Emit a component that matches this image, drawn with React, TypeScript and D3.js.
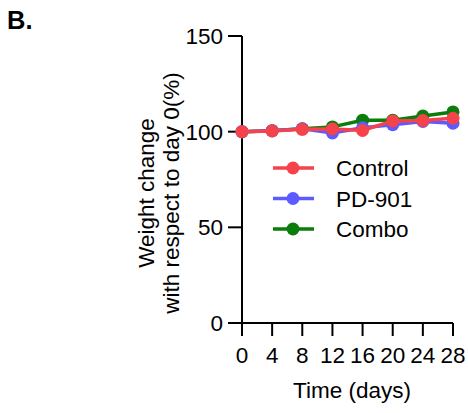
import React from 'react';
import {scaleLinear, line} from 'd3';

// days on the x axis
const days = [0, 4, 8, 12, 16, 20, 24, 28];
const yTicks = [0, 50, 100, 150];

// weight change (%)
const control = [100, 100.4, 101.2, 101.4, 100.6, 105.6, 105.8, 107];
const pd901 = [100, 100.5, 101.5, 99.3, 102, 103.6, 105.3, 104.4];
const combo = [100, 100.5, 101.5, 102.5, 106, 106, 108.2, 110.3];

const seriesNames = ['Control', 'PD-901', 'Combo'];
const seriesColors = ['#f5424b', '#5b5bff', '#0a7d0a'];
const seriesValues = [control, pd901, combo];

const font = 'Arial, "Liberation Sans", sans-serif';
const fs = 22.5;

const App = () => {
    const width = 468;
    const height = 413;

    const x = scaleLinear().domain([0, 28]).range([242, 453]);
    const y = scaleLinear().domain([0, 150]).range([323, 36]);

    const path = line<number>()
        .x((d, i) => x(days[i]))
        .y(d => y(d));

    // draw combo first, then pd-901, control on top
    const order = [2, 1, 0];

    return (
        <svg width={width} height={height} style={{position: 'absolute', left: 0, top: 0}}>
            <rect width={width} height={height} fill="white" />
            <text x={7} y={29} fontFamily={font} fontSize={25.5} fontWeight="bold">B.</text>

            {/* y axis */}
            <line x1={x(0)} x2={x(0)} y1={y(150)} y2={y(0)} stroke="black" strokeWidth={2} />
            {yTicks.map(t => (
                <g key={t}>
                    <line x1={x(0) - 14} x2={x(0)} y1={y(t)} y2={y(t)} stroke="black" strokeWidth={2} />
                    <text x={x(0) - 19} y={y(t)} dy="0.36em" textAnchor="end"
                          fontFamily={font} fontSize={fs}>{t}</text>
                </g>
            ))}

            {/* x axis */}
            <line x1={x(0)} x2={x(28)} y1={y(0)} y2={y(0)} stroke="black" strokeWidth={2} />
            {days.map(d => (
                <g key={d}>
                    <line x1={x(d)} x2={x(d)} y1={y(0)} y2={y(0) + 13} stroke="black" strokeWidth={2} />
                    <text x={x(d)} y={y(0) + 40} textAnchor="middle"
                          fontFamily={font} fontSize={fs}>{d}</text>
                </g>
            ))}

            <text x={352} y={398} textAnchor="middle" fontFamily={font} fontSize={fs}>Time (days)</text>
            <text transform="translate(154,193) rotate(-90)" textAnchor="middle"
                  fontFamily={font} fontSize={fs}>Weight change</text>
            <text transform="translate(179,193) rotate(-90)" textAnchor="middle"
                  fontFamily={font} fontSize={fs}>with respect to day 0(%)</text>

            {order.map(s => (
                <g key={seriesNames[s]}>
                    <path d={path(seriesValues[s]) || ''} fill="none" stroke={seriesColors[s]} strokeWidth={3.5} />
                    {seriesValues[s].map((v, i) => (
                        <circle key={i} cx={x(days[i])} cy={y(v)} r={6.5} fill={seriesColors[s]} />
                    ))}
                </g>
            ))}

            {/* legend */}
            {seriesNames.map((name, i) => (
                <g key={name} transform={`translate(0,${168 + i * 30.5})`}>
                    <line x1={273} x2={314} y1={0} y2={0} stroke={seriesColors[i]} strokeWidth={3.5} />
                    <circle cx={293} cy={0} r={6.5} fill={seriesColors[i]} />
                    <text x={336} y={0} dy="0.36em" fontFamily={font} fontSize={fs}>{name}</text>
                </g>
            ))}
        </svg>
    );
};

export default App;
